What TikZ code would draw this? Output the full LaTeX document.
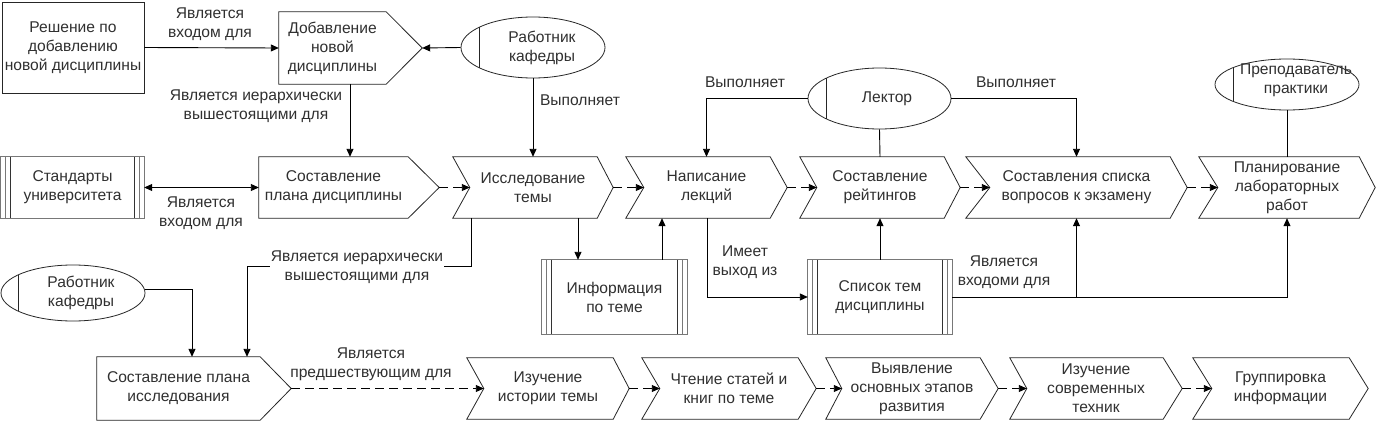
\documentclass[tikz,border=0pt]{standalone}
\usepackage{fontspec}
\setmainfont{Liberation Sans}
\usetikzlibrary{arrows.meta,calc,shapes.geometric}
\definecolor{txtc}{RGB}{48,48,48}
\definecolor{storegray}{RGB}{120,120,120}
\tikzset{
  base/.style={font=\fontsize{15.6}{19}\selectfont, text=txtc, align=center, inner sep=0pt},
  body/.style={base, draw=none, rectangle},
  shapeline/.style={draw=black!85, line width=0.8pt, line join=miter},
  storeouter/.style={draw=storegray, line width=0.8pt},
  storeinner/.style={draw=black!80, line width=0.8pt},
  actor/.style={base, draw=black!85, line width=0.8pt, ellipse},
  lbl/.style={base},
  arr/.style={-{Triangle[length=8pt,width=7pt]}, line width=0.9pt},
  dblarr/.style={{Triangle[length=8pt,width=7pt]}-{Triangle[length=8pt,width=7pt]}, line width=0.9pt},
  plain/.style={line width=0.9pt},
  darr/.style={arr, dash pattern=on 9pt off 5pt},
}
% chevron outline: name, tip depth, notch depth
\newcommand{\drawchev}[3]{%
  \draw[shapeline] (#1.north west) -- ([xshift=-#2pt]#1.north east) -- (#1.east)
    -- ([xshift=-#2pt]#1.south east) -- (#1.south west) -- ([xshift=#3pt]#1.west) -- cycle;
  \coordinate (#1-in) at ([xshift=#3pt]#1.west);}
% pentagon outline: name, tip depth
\newcommand{\drawpent}[2]{%
  \draw[shapeline] (#1.north west) -- (#1.north east) -- ([xshift=#2pt]#1.east)
    -- (#1.south east) -- (#1.south west) -- cycle;
  \coordinate (#1-tip) at ([xshift=#2pt]#1.east);}
% data store outline
\newcommand{\drawstore}[1]{%
  \draw[storeouter] (#1.north west) rectangle (#1.south east);
  \draw[storeouter] ([xshift=5pt]#1.north west) -- ([xshift=5pt]#1.south west);
  \draw[storeinner] ([xshift=10pt]#1.north west) -- ([xshift=10pt]#1.south west);
  \draw[storeouter] ([xshift=-5pt]#1.north east) -- ([xshift=-5pt]#1.south east);
  \draw[storeinner] ([xshift=-10pt]#1.north east) -- ([xshift=-10pt]#1.south east);}
\begin{document}
\begin{tikzpicture}[x=1pt,y=-1pt]
\useasboundingbox[fill=white] (0,0) rectangle (1377,423);

% ---------- top row ----------
\node[body, draw=black!85, line width=0.8pt, minimum width=142pt, minimum height=91pt] (dec) at (73,47.5)
  {Решение по\\добавлению\\новой дисциплины};
\node[body, minimum width=107pt, minimum height=72pt] (add) at (332.5,48)
  {Добавление\\новой\\дисциплины};
\drawpent{add}{36}

\node[actor, minimum width=144pt, minimum height=61pt] (w1) at (533,47.5) {};
\draw[shapeline] ($(w1.center)+(-54,-20.2)$) -- ($(w1.center)+(-54,20.2)$);
\node[base] (w1t) at (542,47.5) {Работник\\кафедры};

\node[actor, minimum width=143pt, minimum height=61pt] (lect) at (879.5,98.5) {};
\draw[shapeline] ($(lect.center)+(-53.5,-20.2)$) -- ($(lect.center)+(-53.5,20.2)$);
\node[base] (lectt) at (887,98.5) {Лектор};

\node[actor, minimum width=144pt, minimum height=51pt] (prep) at (1287,84.5) {};
\draw[shapeline] ($(prep.center)+(-54,-16.9)$) -- ($(prep.center)+(-54,16.9)$);
\node[base] (prept) at (1296,80.5) {Преподаватель\\практики};

% ---------- middle row ----------
\node[body, minimum width=143pt, minimum height=61pt] (std) at (72.5,187.5) {Стандарты\\университета};
\drawstore{std}
\node[body, minimum width=149pt, minimum height=61pt] (plan) at (333.5,187.5) {Составление\\плана дисциплины};
\drawpent{plan}{31}
\node[body, minimum width=160pt, minimum height=61pt] (res) at (533,187.5) {Исследование\\темы};
\drawchev{res}{16}{17}
\node[body, minimum width=161pt, minimum height=61pt] (lec) at (706.5,187.5) {Написание\\лекций};
\drawchev{lec}{17}{18}
\node[body, minimum width=160pt, minimum height=61pt] (rat) at (880,187.5) {Составление\\рейтингов};
\drawchev{rat}{16}{17}
\node[body, minimum width=221pt, minimum height=61pt] (exam) at (1076.5,187.5) {Составления списка\\вопросов к экзамену};
\drawchev{exam}{17}{24}
\node[body, minimum width=176pt, minimum height=61pt] (lab) at (1287,187.5) {Планирование\\лабораторных\\работ};
\drawchev{lab}{16}{19}

\node[body, minimum width=145pt, minimum height=74pt] (info) at (614.5,297) {Информация\\по теме};
\drawstore{info}
\node[body, minimum width=144pt, minimum height=74pt] (list) at (880,297) {Список тем\\дисциплины};
\drawstore{list}

% ---------- bottom row ----------
\node[actor, minimum width=144pt, minimum height=56pt] (w2) at (73,293) {};
\draw[shapeline] ($(w2.center)+(-55,-18.1)$) -- ($(w2.center)+(-55,18.1)$);
\node[base] (w2t) at (81,293) {Работник\\кафедры};

\node[body, minimum width=163pt, minimum height=63pt] (pres) at (178.5,388.5) {Составление плана\\исследования};
\drawpent{pres}{31}
\node[body, minimum width=162pt, minimum height=61pt] (hist) at (548,388.5) {Изучение\\истории темы};
\drawchev{hist}{16}{17}
\node[body, minimum width=174pt, minimum height=61pt] (read) at (729,388.5) {Чтение статей и\\книг по теме};
\drawchev{read}{18}{18}
\node[body, minimum width=172pt, minimum height=61pt] (stage) at (912,388.5) {Выявление\\основных этапов\\развития};
\drawchev{stage}{18}{16}
\node[body, minimum width=172pt, minimum height=61pt] (mod) at (1096,388.5) {Изучение\\современных\\техник};
\drawchev{mod}{19}{17}
\node[body, minimum width=175pt, minimum height=61pt] (grp) at (1280.5,388.5) {Группировка\\информации};
\drawchev{grp}{19}{19}

% ---------- helper coordinates ----------
\coordinate (x350) at (350,0);
\coordinate (x578) at (578,0);
\coordinate (x662) at (662,0);
\coordinate (x707) at (707,0);
\coordinate (x471) at (471,0);
\coordinate (x192) at (192,0);
\coordinate (h1) at (247,266);

% ---------- connectors ----------
\draw[arr] (dec.east) -- (add.west);
\node[lbl] (l1) at (210,24) {Является\\входом для};

\draw[arr] (w1.west) -- (add-tip);

\draw[arr] (add.south -| x350) -- (plan.north -| x350);
\node[lbl] (l2) at (256,106.5) {Является иерархически\\вышестоящими для};

\draw[arr] (w1.south) -- (res.north);
\node[lbl] (l3) at (580,100) {Выполняет};

\draw[arr] (lect.west) -| (lec.north);
\node[lbl] (l4) at (745,82) {Выполняет};
\draw[arr] (lect.east) -| (exam.north);
\node[lbl] (l5) at (1016,82.5) {Выполняет};
\draw[plain] (lect.south) -- (rat.north);
\draw[plain] (prep.south) -- (lab.north);

\draw[dblarr] (std.east) -- (plan.west);
\node[lbl] (l6) at (201,213) {Является\\входом для};

\draw[darr] (plan-tip) -- (res-in);
\draw[darr] (res.east) -- (lec-in);
\draw[darr] (lec.east) -- (rat-in);
\draw[darr] (rat.east) -- (exam-in);
\draw[darr] (exam.east) -- (lab-in);

\draw[arr] (res.south -| x578) -- (info.north -| x578);
\draw[arr] (info.north -| x662) -- (lec.south -| x662);
\draw[arr] (lec.south -| x707) |- (list.west);
\node[lbl] (l7) at (745,262.5) {Имеет\\выход из};
\draw[arr] (list.north) -- (rat.south);
\draw[arr] (list.east) -| (lab.south);
\draw[arr] (list.east -| exam.south) -- (exam.south);
\node[lbl] (l8) at (1004,272.5) {Является\\входоми для};

\draw[arr] (res.south -| x471) |- (h1) -- (pres.north -| h1);
\node[lbl, fill=white, inner xsep=1pt] (l9) at (357,267) {Является иерархически\\вышестоящими для};

\draw[arr] ([yshift=4pt]w2.east) -| (pres.north -| x192);

\draw[darr] (pres-tip) -- (hist-in);
\node[lbl] (l10) at (371,364) {Является\\предшествующим для};
\draw[darr] (hist.east) -- (read-in);
\draw[darr] (read.east) -- (stage-in);
\draw[darr] (stage.east) -- (mod-in);
\draw[darr] (mod.east) -- (grp-in);
\end{tikzpicture}
\end{document}
